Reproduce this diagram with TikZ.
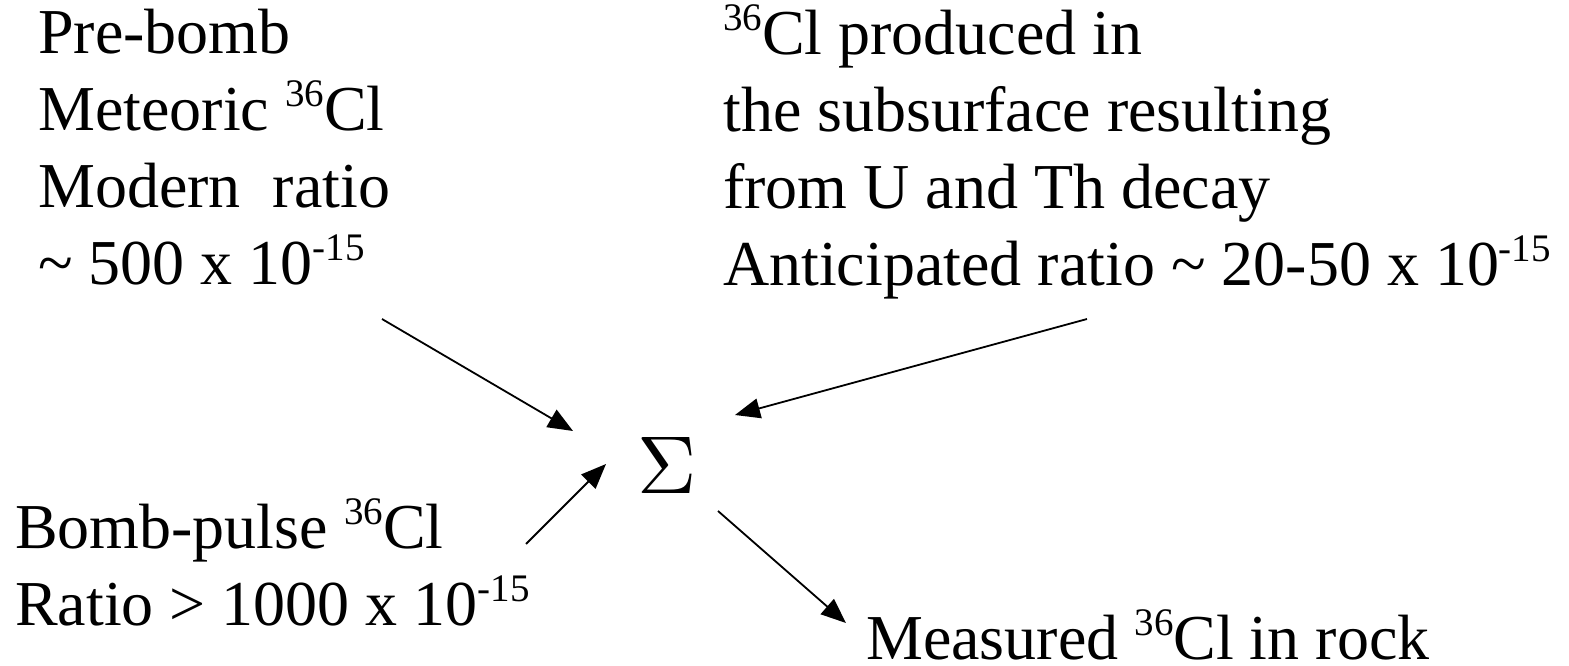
\documentclass[tikz,border=0pt]{standalone}
\usepackage{fontspec}
\setmainfont{Liberation Serif}
\usetikzlibrary{positioning, arrows.meta}

\newcommand{\upnum}[1]{\raisebox{0.36em}{\fontsize{39}{39}\selectfont #1}}

\begin{document}
\begin{tikzpicture}[
    x=1pt, y=-1pt,
    >={Triangle[length=25pt, width=20pt]},
    txt/.style={anchor=base west, align=left, inner sep=0pt, font=\fontsize{64}{77}\selectfont},
    flow/.style={->, line width=1.8pt}
]
\useasboundingbox (0,0) rectangle (1569,666);

% ================= Nodes =================

% Sources (anchored at the baseline of their last line)
\node[txt] (prebomb) at (38, 284) {Pre-bomb\\Meteoric \upnum{36}Cl\\Modern \ ratio\\\textasciitilde{} 500 x 10\upnum{-15}};
\node[txt] (subsurf) at (723, 285) {\upnum{36}Cl produced in\\the subsurface resulting\\from U and Th decay\\Anticipated ratio \textasciitilde{} 20-50 x 10\upnum{-15}};
\node[txt] (bombpulse) at (15, 625) {Bomb-pulse \upnum{36}Cl\\Ratio > 1000 x 10\upnum{-15}};

% Sum and result
\node[inner sep=0pt, scale=8.2] (sigma) at (667, 465) {$\Sigma$};
\node[txt] (measured) at (866, 659) {Measured \upnum{36}Cl in rock};

% ================= Arrow ends =================

\coordinate (pb_start) at (382, 319);
\coordinate (pb_end) at (573, 431);
\coordinate (ss_start) at (1087, 319);
\coordinate (ss_end) at (735, 415);
\coordinate (bp_start) at (526, 544);
\coordinate (bp_end) at (606, 464);
\coordinate (ms_start) at (718, 511);
\coordinate (ms_end) at (846, 623);

% ================= Edges =================

\draw[flow] (pb_start) -- (pb_end);
\draw[flow] (ss_start) -- (ss_end);
\draw[flow] (bp_start) -- (bp_end);
\draw[flow] (ms_start) -- (ms_end);

\end{tikzpicture}
\end{document}
